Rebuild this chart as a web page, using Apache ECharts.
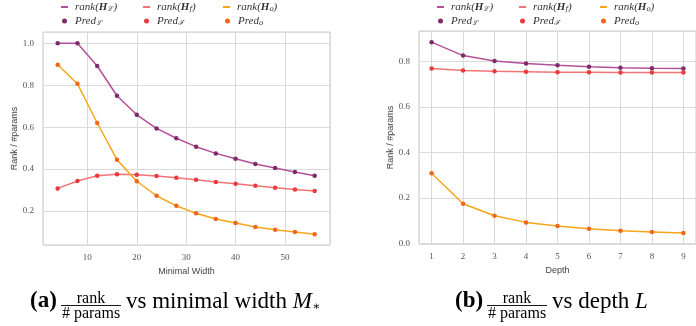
<!DOCTYPE html>
<html>
<head>
<meta charset="utf-8">
<script src="https://cdn.jsdelivr.net/npm/echarts@6/dist/echarts.min.js"></script>
<style>
html,body{margin:0;padding:0;background:#fff;}
#c{width:696px;height:326px;}
</style>
</head>
<body>
<div id="c"></div>
<script>
// ---- data ----
const widthX = [4, 8, 12, 16, 20, 24, 28, 32, 36, 40, 44, 48, 52, 56];
const widthL = [1.0, 1.0, 0.892, 0.75, 0.659, 0.594, 0.547, 0.507, 0.475, 0.449, 0.424, 0.405, 0.386, 0.368];
const widthF = [0.308, 0.343, 0.368, 0.376, 0.373, 0.367, 0.359, 0.349, 0.338, 0.330, 0.321, 0.311, 0.303, 0.295];
const widthO = [0.898, 0.807, 0.620, 0.445, 0.342, 0.273, 0.225, 0.189, 0.162, 0.143, 0.124, 0.111, 0.100, 0.089];

const depthX = [1, 2, 3, 4, 5, 6, 7, 8, 9];
const depthL = [0.884, 0.825, 0.801, 0.790, 0.782, 0.776, 0.772, 0.769, 0.768];
const depthF = [0.768, 0.759, 0.756, 0.754, 0.752, 0.752, 0.751, 0.751, 0.751];
const depthO = [0.308, 0.174, 0.121, 0.092, 0.076, 0.064, 0.055, 0.050, 0.045];

const legendNames = {
  rankL: '{it|rank(}{b|H}{sub|ℒ}{it|)}',
  rankF: '{it|rank(}{b|H}{sub|f}{it|)}',
  rankO: '{it|rank(}{b|H}{sub|o}{it|)}',
  predL: '{it|Pred}{sub|ℒ}',
  predF: '{it|Pred}{sub|ℱ}',
  predO: '{it|Pred}{sub|o}'
};

const colors = {
  rankL: '#b4509a', rankF: '#f27474', rankO: '#f8a51a',
  predL: '#7d2c69', predF: '#ea3a3e', predO: '#f4651a'
};

const chart = echarts.init(document.getElementById('c'), null, {renderer: 'canvas'});

const tickFont = {fontFamily: 'Liberation Serif', fontSize: 9, color: '#555'};
const nameFont = {fontFamily: 'Liberation Sans', fontSize: 9, color: '#444'};
const richLegend = {
  it: {fontFamily: 'Liberation Serif', fontStyle: 'italic', fontSize: 11, color: '#333'},
  b: {fontFamily: 'Liberation Serif', fontStyle: 'italic', fontWeight: 'bold', fontSize: 11, color: '#333'},
  sub: {fontFamily: 'DejaVu Serif', fontStyle: 'italic', fontSize: 7, color: '#333', padding: [5, 0, 0, 0]}
};

function pair(xs, ys) { return xs.map((x, i) => [x, ys[i]]); }

function makeSeries(idx, xs, L, F, O) {
  const p = idx === 0 ? 'w' : 'd';
  const out = [];
  [['rankL', L], ['rankF', F], ['rankO', O]].forEach(([k, arr]) => {
    out.push({
      name: p + k, type: 'line', xAxisIndex: idx, yAxisIndex: idx,
      data: pair(xs, arr), showSymbol: false, symbol: 'none',
      lineStyle: {color: colors[k], width: 1.5}, itemStyle: {color: colors[k]},
      z: 2, animation: false, silent: true
    });
  });
  [['predL', L], ['predF', F], ['predO', O]].forEach(([k, arr]) => {
    out.push({
      name: p + k, type: 'scatter', xAxisIndex: idx, yAxisIndex: idx,
      data: pair(xs, arr), symbol: 'circle', symbolSize: 4.5,
      itemStyle: {color: colors[k], opacity: 1}, z: 3, animation: false, silent: true
    });
  });
  return out;
}

function makeLegends(prefix, lineLefts, dotLefts) {
  const out = [];
  ['rankL', 'rankF', 'rankO'].forEach((k, i) => {
    out.push({
      data: [{name: prefix + k, icon: 'rect'}], left: lineLefts[i], top: 1,
      itemWidth: 7, itemHeight: 2, orient: 'horizontal',
      formatter: () => legendNames[k], selectedMode: false, padding: 0,
      textStyle: {rich: richLegend, padding: [0, 0, 0, 2], lineHeight: 12},
      itemStyle: {color: colors[k]}
    });
  });
  ['predL', 'predF', 'predO'].forEach((k, i) => {
    out.push({
      data: [{name: prefix + k, icon: 'circle'}], left: dotLefts[i], top: 15,
      itemWidth: 5, itemHeight: 5, orient: 'horizontal',
      formatter: () => legendNames[k], selectedMode: false, padding: 0,
      textStyle: {rich: richLegend, padding: [0, 0, 0, 3], lineHeight: 12},
      itemStyle: {color: colors[k]}
    });
  });
  return out;
}

function yAxis(idx, min, max, name) {
  return {
    type: 'value', gridIndex: idx, min: min, max: max, splitNumber: 5,
    name: name, nameLocation: 'middle', nameGap: 23, nameTextStyle: nameFont,
    axisLine: {show: false}, axisTick: {show: false},
    axisLabel: Object.assign({margin: 9, showMinLabel: false, showMaxLabel: false,
      formatter: v => v.toFixed(1)}, tickFont),
    splitLine: {lineStyle: {color: '#dadada', width: 1}}
  };
}
function xAxis(idx, min, max, split, name) {
  return {
    type: 'value', gridIndex: idx, min: min, max: max, splitNumber: split,
    name: name, nameLocation: 'middle', nameGap: 17, nameTextStyle: nameFont,
    axisLine: {show: false}, axisTick: {show: false},
    axisLabel: Object.assign({margin: 8, showMinLabel: false, showMaxLabel: false,
      formatter: v => String(Math.round(v))}, tickFont),
    splitLine: {lineStyle: {color: '#dadada', width: 1}}
  };
}

const capFont = 'Liberation Serif';
const CAP = 23;
const FR = 16;
function caption(x0, letter, letterW, rest) {
  const fx = x0 + letterW + 5;
  const fw = 58;
  return [
    {type: 'text', left: x0, top: 290, style: {text: letter, fontFamily: capFont, fontWeight: 'bold', fontSize: CAP, fill: '#000'}},
    {type: 'text', x: fx + fw / 2, y: 290.5, style: {text: 'rank', fontFamily: capFont, fontSize: FR, fill: '#000', align: 'center', verticalAlign: 'top'}},
    {type: 'line', shape: {x1: fx - 1, y1: 305.5, x2: fx + fw + 1, y2: 305.5}, style: {stroke: '#000', lineWidth: 0.9}},
    {type: 'text', x: fx + fw / 2, y: 306, style: {text: '# params', fontFamily: capFont, fontSize: FR, fill: '#000', align: 'center', verticalAlign: 'top'}},
    {type: 'text', left: fx + fw + 6, top: 290, style: {text: rest, fontFamily: capFont, fontSize: CAP, fill: '#000',
      rich: {n: {fontFamily: capFont, fontSize: CAP, fill: '#000'},
             m: {fontFamily: capFont, fontStyle: 'italic', fontSize: CAP, fill: '#000'},
             s: {fontFamily: 'DejaVu Serif', fontSize: 12, fill: '#000', padding: [10, 0, 0, 0]}}}}
  ];
}

const option = {
  backgroundColor: '#fff',
  animation: false,
  grid: [
    {left: 43, top: 32, width: 287, height: 213, show: true, borderColor: '#cccccc', borderWidth: 1, backgroundColor: 'transparent'},
    {left: 419, top: 31, width: 285, height: 213, show: true, borderColor: '#cccccc', borderWidth: 1, backgroundColor: 'transparent'}
  ],
  xAxis: [xAxis(0, 1.03, 59.1, 5, 'Minimal Width'), xAxis(1, 0.6, 9.4, 8, 'Depth')],
  yAxis: [yAxis(0, 0.038, 1.054, 'Rank / #params'), yAxis(1, -0.003, 0.933, 'Rank / #params')],
  legend: makeLegends('w', [61, 143, 223], [62, 144, 225]).concat(makeLegends('d', [437, 519, 600], [438, 520, 601])),
  series: makeSeries(0, widthX, widthL, widthF, widthO).concat(makeSeries(1, depthX, depthL, depthF, depthO)),
  graphic: caption(30, '(a)', 27, '{n|vs minimal width }{m|M}{s|∗}').concat(caption(455, '(b)', 28, '{n|vs depth }{m|L}'))
};
chart.setOption(option);
</script>
</body>
</html>
